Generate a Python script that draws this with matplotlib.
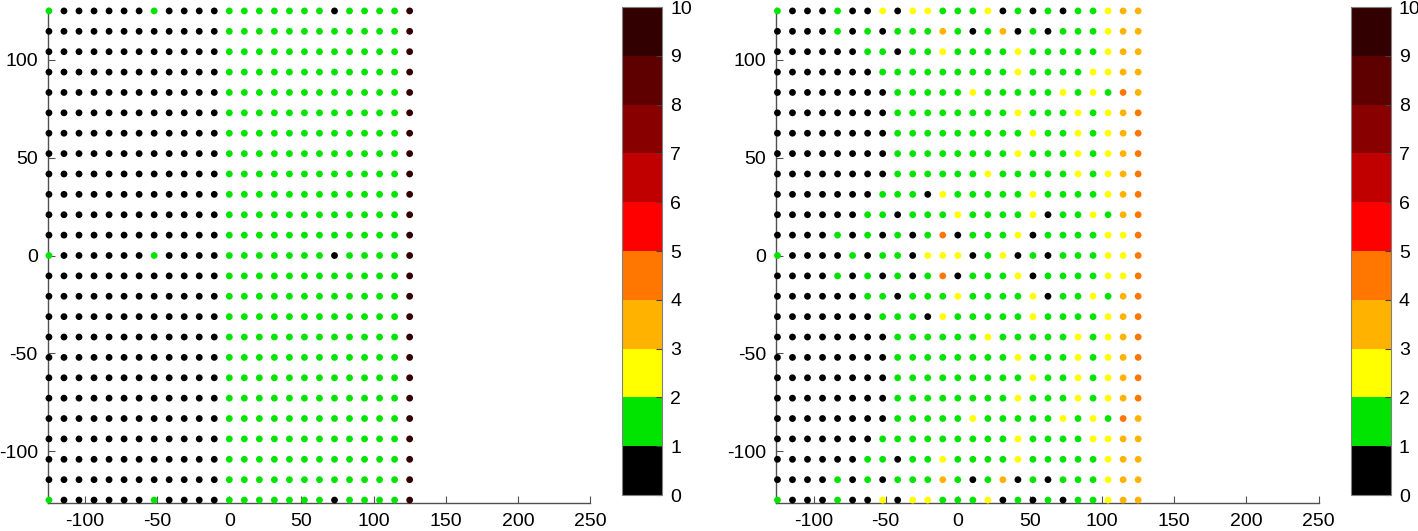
import matplotlib
matplotlib.use('Agg')
import matplotlib.pyplot as plt
from matplotlib.colors import ListedColormap, BoundaryNorm
from matplotlib.cm import ScalarMappable
import numpy as np

plt.rcParams['font.family'] = ['Liberation Sans', 'DejaVu Sans']
plt.rcParams['axes.unicode_minus'] = False

# grid positions (same on x and y)
grid_pos = [-125.0, -114.58, -104.17, -93.75, -83.33, -72.92, -62.5, -52.08,
            -41.67, -31.25, -20.83, -10.42, 0.0, 10.42, 20.83, 31.25, 41.67,
            52.08, 62.5, 72.92, 83.33, 93.75, 104.17, 114.58, 125.0]

# one string per row, first row is y=125; each digit = colour band (value band n..n+1)
left_rows = [
    "1000000100001111111011119",
    "0000000000001111111111119",
    "0000000000001111111111119",
    "0000000000001111111111119",
    "0000000000001111111111119",
    "0000000000001111111111119",
    "0000000000001111111111119",
    "0000000000001111111111119",
    "0000000000001111111111119",
    "0000000000001111111111119",
    "0000000000001111111111119",
    "0000000000001111111111119",
    "1000000100001111111011119",
    "0000000000001111111111119",
    "0000000000001111111111119",
    "0000000000001111111111119",
    "0000000000001111111111119",
    "0000000000001111111111119",
    "0000000000001111111111119",
    "0000000000001111111111119",
    "0000000000001111111111119",
    "0000000000001111111111119",
    "0000000000001111111111119",
    "0000000000001111111111119",
    "1000000100001111111011119",
]

right_rows = [
    "1000100202211120101011233",
    "0000101011131013010111233",
    "0000001101121111211111233",
    "0000000111111111211112233",
    "0000000011111211111212143",
    "0000000011111111211121234",
    "0000000011111111121121234",
    "0000000011111111211121234",
    "0000000011111121111121234",
    "0000000111021111121111234",
    "0000001101112111120112134",
    "0000101010140111201111224",
    "1000010110222012010111224",
    "0000101010140111201111224",
    "0000001101112111120112134",
    "0000000111021111121111234",
    "0000000011111121111121234",
    "0000000011111111211121234",
    "0000000011111111121121234",
    "0000000011111111211121234",
    "0000000011111211111212143",
    "0000000111111111211112233",
    "0000001101121111211111233",
    "0000101011131013010111233",
    "1000100202211120101011233",
]

band_colors = ['#000000', '#00e400', '#ffff00', '#ffb300', '#ff7700',
               '#ff0000', '#c00000', '#880000', '#5e0000', '#330000']
cbar_ticks = list(range(11))
x_ticks = [-100, -50, 0, 50, 100, 150, 200, 250]
y_ticks = [-100, -50, 0, 50, 100]


def rows_to_points(rows):
    """把每行的数字串转成 x, y, value"""
    xs, ys, vals = [], [], []
    for i, row in enumerate(rows):
        y = grid_pos[len(grid_pos) - 1 - i]
        for j, ch in enumerate(row):
            xs.append(grid_pos[j])
            ys.append(y)
            vals.append(int(ch) + 0.5)
    return np.array(xs), np.array(ys), np.array(vals)


cmap = ListedColormap(band_colors)
norm = BoundaryNorm(cbar_ticks, cmap.N)

fig = plt.figure(figsize=(14.18, 5.31), dpi=100)
W, H = 1418.0, 531.0

for rows, x0 in [(left_rows, 47.5), (right_rows, 776.0)]:
    ax = fig.add_axes([x0 / W, 28 / H, 542.5 / W, 495 / H])
    xs, ys, vals = rows_to_points(rows)
    ax.scatter(xs, ys, c=vals, cmap=cmap, norm=norm, s=24, linewidths=0,
               zorder=3, clip_on=False)
    ax.set_xlim(-126, 250)
    ax.set_ylim(-126.5, 126.5)
    ax.set_xticks(x_ticks)
    ax.set_yticks(y_ticks)
    for side in ['top', 'right']:
        ax.spines[side].set_visible(False)
    for side in ['left', 'bottom']:
        ax.spines[side].set_color('#505050')
        ax.spines[side].set_linewidth(1.0)
    ax.tick_params(direction='in', length=5, width=0.8, color='#505050',
                   labelsize=14, pad=7)

    # colorbar
    cx = x0 + 574.5
    cax = fig.add_axes([cx / W, 36 / H, 40 / W, 488 / H])
    sm = ScalarMappable(norm=norm, cmap=cmap)
    cb = fig.colorbar(sm, cax=cax, ticks=cbar_ticks)
    cb.outline.set_edgecolor('#808080')
    cb.outline.set_linewidth(0.8)
    cax.tick_params(direction='in', length=4, width=0.8, color='#404040',
                    labelsize=14, pad=6)

fig.savefig('out.png', dpi=100)
plt.close(fig)
